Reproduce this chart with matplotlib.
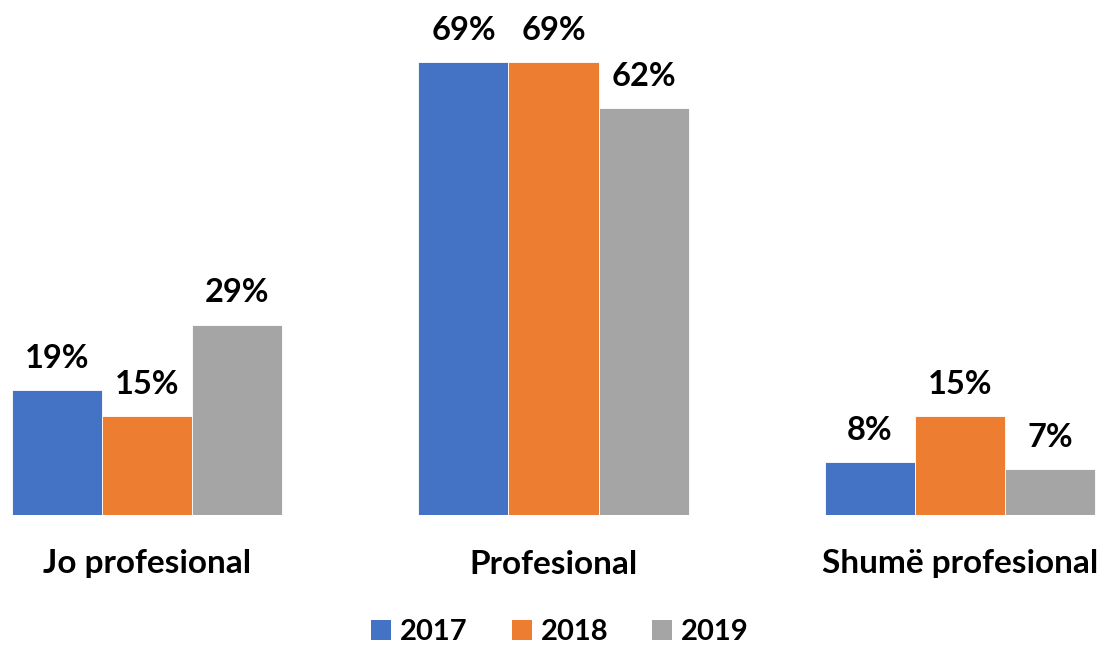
import numpy as np
import matplotlib
matplotlib.use('Agg')
import matplotlib.pyplot as plt
from matplotlib.patches import Patch

categories = ['Jo profesional', 'Profesional', 'Shumë profesional']
years = ['2017', '2018', '2019']
v2017 = [19, 69, 8]
v2018 = [15, 69, 15]
v2019 = [29, 62, 7]
colors = ['#4472C4', '#ED7D31', '#A5A5A5']

plt.rcParams['font.family'] = ['Lato', 'DejaVu Sans']

fig = plt.figure(figsize=(11.07, 6.46), dpi=100)
ax = fig.add_axes([0, 131 / 646, 1, 0.7624])

x = np.arange(len(categories))
w = 0.2214
for i, (vals, col) in enumerate(zip([v2017, v2018, v2019], colors)):
    pos = x + (i - 1) * w
    ax.bar(pos, vals, width=w, color=col, edgecolor='white', linewidth=0.6)
    for px, v in zip(pos, vals):
        ax.text(px, v + 2.6, f'{v}%', ha='center', va='bottom',
                fontsize=23.5, fontweight='bold')

ax.set_xlim(-0.3616, 2.3616)
ax.set_ylim(0, 75)
ax.axis('off')

for xi, c in zip(x, categories):
    fig.text((xi + 0.3616) / 2.7232, 1 - 564 / 646, c, ha='center', va='center',
             fontsize=24, fontweight='bold')

handles = [Patch(facecolor=c, edgecolor='none') for c in colors]
fig.legend(handles, years, loc='center', bbox_to_anchor=(560 / 1107, 1 - 632 / 646),
           ncol=3, frameon=False, handlelength=0.7, handleheight=0.7,
           handletextpad=0.3, columnspacing=1.5,
           prop={'size': 21, 'weight': 'bold'})

plt.savefig('out.png', dpi=100)
